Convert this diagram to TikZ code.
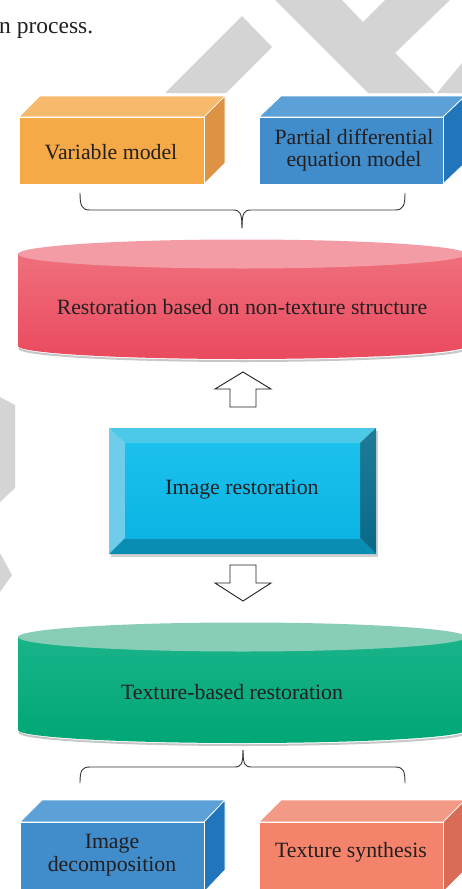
\documentclass[tikz,border=0pt]{standalone}
\usepackage{fontspec}
\setmainfont{Liberation Serif}
\usetikzlibrary{calc}
\definecolor{txt}{HTML}{231F20}
\definecolor{wm}{HTML}{D4D4D4}
\definecolor{orF}{HTML}{F5AA47}
\definecolor{orT}{HTML}{F7BA6C}
\definecolor{orS}{HTML}{DE9344}
\definecolor{blF}{HTML}{418DCC}
\definecolor{blT}{HTML}{5BA1D7}
\definecolor{blS}{HTML}{2176BB}
\definecolor{saF}{HTML}{F4836B}
\definecolor{saT}{HTML}{F29A86}
\definecolor{saS}{HTML}{D86C57}
\definecolor{rdT}{HTML}{F49CA5}
\definecolor{rdA}{HTML}{EF6F7C}
\definecolor{rdB}{HTML}{EA4A5E}
\definecolor{gnT}{HTML}{88CEB6}
\definecolor{gnA}{HTML}{1AB38A}
\definecolor{gnB}{HTML}{00A775}
\definecolor{cyA}{HTML}{1CC1EC}
\definecolor{cyB}{HTML}{0BB4E4}
\definecolor{cyTop}{HTML}{4CC9E8}
\definecolor{cyLeft}{HTML}{6FCDEB}
\definecolor{cyRA}{HTML}{1F7C98}
\definecolor{cyRB}{HTML}{0A6888}
\definecolor{cyBot}{HTML}{0A8DB3}
\begin{document}
\begin{tikzpicture}[x=1pt,y=-1pt,
  lab/.style={font=\fontsize{21.8}{22.5}\selectfont, text=txt, align=center, inner sep=0pt},
  face/.style={draw=white, line width=0.7pt},
  bracepath/.style={draw=txt!90, line width=0.9pt},
  blockarr/.style={draw=txt, fill=white, line width=0.9pt, line join=miter}]
\clip (0,0) rectangle (462,889);
\fill[white] (0,0) rectangle (462,889);
% watermark
\fill[wm] (165,93) -- (242,16) -- (272,47) -- (226,93) -- cycle;
\fill[wm] (275,0) -- (342,0) -- (363,22) -- (385,0) -- (450,0) -- (395,53) -- (435,93) -- (368,93) -- cycle;
\fill[wm] (437,93) -- (462,63) -- (462,93) -- cycle;
\fill[wm] (0,397) -- (15,405) -- (15,488) -- (0,502) -- cycle;
\fill[wm] (0,553) -- (12,575) -- (0,592) -- cycle;
% caption fragment
\node[anchor=base west, font=\fontsize{23.5}{26}\selectfont, text=txt, inner sep=0pt] (cap) at (-1,33) {n process.};
% top cuboids
\fill[orT, face] (19,117) -- (40,96) -- (225,96) -- (204,117) -- cycle;
\fill[orS, face] (204,117) -- (225,96) -- (225,163) -- (204,184) -- cycle;
\fill[orF, face] (19,117) rectangle (204,184);
\node[lab] (vm) at (111,152) {Variable model};
\fill[blT, face] (259,117) -- (281,96) -- (465,96) -- (443,117) -- cycle;
\fill[blS, face] (443,117) -- (465,96) -- (465,163) -- (443,184) -- cycle;
\fill[blF, face] (259,117) rectangle (443,184);
\node[lab] (pde) at (354,150) {Partial differential\\equation model};
% top brace
\coordinate (tbl) at (80,193);
\coordinate (tbr) at (405,193);
\coordinate (tbt) at (242,228);
\path[bracepath] (tbl) .. controls (80,206) and (82,210) .. (90,210) -- (233,210)
  .. controls (240,210) and (242,213) .. (tbt);
\path[bracepath] (tbt) .. controls (242,213) and (244,210) .. (251,210) -- (395,210)
  .. controls (403,210) and (405,206) .. (tbr);
% red cylinder
\draw[black!22, line width=2pt] (19,348) arc[start angle=180, end angle=360, x radius=224pt, y radius=13pt];
\shade[top color=rdA, bottom color=rdB] (18,254) -- (18,346) arc[start angle=180, end angle=360, x radius=224pt, y radius=13pt] -- (466,254) -- cycle;
\fill[rdT] (242,254) ellipse[x radius=224pt, y radius=14.5pt];
\node[lab] (rb) at (242,307) {Restoration based on non-texture structure};
% up arrow
\coordinate (upb) at (243,407);
\draw[blockarr, shift={(upb)}] (-13,0) -- (-13,-18) -- (-28,-18) -- (0,-35) -- (28,-18) -- (13,-18) -- (13,0) -- cycle;
% image restoration box
\fill[black!18] (111,431) rectangle (378,557);
\fill[cyTop] (109,428) -- (376,428) -- (360,443) -- (125,443) -- cycle;
\fill[cyLeft] (109,428) -- (125,443) -- (125,538) -- (109,554) -- cycle;
\shade[top color=cyRA, bottom color=cyRB] (376,428) -- (376,554) -- (360,538) -- (360,443) -- cycle;
\fill[cyBot] (109,554) -- (125,538) -- (360,538) -- (376,554) -- cycle;
\shade[top color=cyA, bottom color=cyB] (125,443) rectangle (360,538);
\node[lab] (ir) at (242,490) {Image restoration};
% down arrow
\coordinate (dnt) at (243,565);
\draw[blockarr, shift={(dnt)}] (-13,0) -- (13,0) -- (13,18) -- (28,18) -- (0,36) -- (-28,18) -- (-13,18) -- cycle;
% green cylinder
\draw[black!22, line width=2pt] (19,732) arc[start angle=180, end angle=360, x radius=224pt, y radius=13pt];
\shade[top color=gnA, bottom color=gnB] (18,637) -- (18,730) arc[start angle=180, end angle=360, x radius=224pt, y radius=13pt] -- (466,637) -- cycle;
\fill[gnT] (242,637) ellipse[x radius=224pt, y radius=14.5pt];
\node[lab] (tb) at (232,692) {Texture-based restoration};
% bottom brace
\coordinate (bbt) at (243,750);
\coordinate (bbl) at (80,783);
\coordinate (bbr) at (405,783);
\path[bracepath] (bbt) .. controls (243,765) and (241,767) .. (234,767) -- (90,767)
  .. controls (82,767) and (80,770) .. (bbl);
\path[bracepath] (bbt) .. controls (243,765) and (245,767) .. (252,767) -- (395,767)
  .. controls (403,767) and (405,770) .. (bbr);
% bottom cuboids
\fill[blT, face] (20,822) -- (42,800) -- (225,800) -- (204,822) -- cycle;
\fill[blS, face] (204,822) -- (225,800) -- (225,870) -- (204,892) -- cycle;
\fill[blF, face] (20,822) rectangle (204,895);
\node[lab] (idc) at (112,855) {Image\\decomposition};
\fill[saT, face] (259,822) -- (281,800) -- (465,800) -- (443,822) -- cycle;
\fill[saS, face] (443,822) -- (465,800) -- (465,870) -- (443,892) -- cycle;
\fill[saF, face] (259,822) rectangle (443,895);
\node[lab] (ts) at (351,852) {Texture synthesis};
\end{tikzpicture}
\end{document}
